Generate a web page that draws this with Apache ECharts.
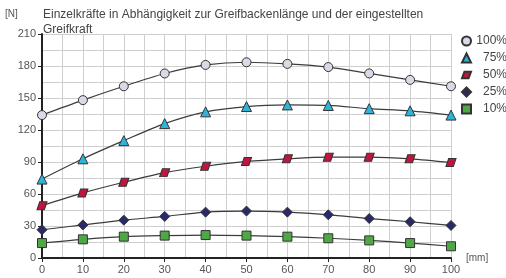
<!DOCTYPE html>
<html>
<head>
<meta charset="utf-8">
<script src="https://cdn.jsdelivr.net/npm/echarts@6/dist/echarts.min.js"></script>
<style>
  html, body { margin: 0; padding: 0; background: #fff; }
  #main { width: 506px; height: 278px; }
</style>
</head>
<body>
<div id="main"></div>
<script>
  // Greifbackenlänge [mm]
  var lengths = [0, 10, 20, 30, 40, 50, 60, 70, 80, 90, 100];

  // Einzelkräfte [N] je eingestellter Greifkraft
  var force100 = [134, 148, 161, 173, 181, 183.5, 182, 179, 173, 167, 161];
  var force75 = [74, 93, 110, 126, 137, 142, 143.5, 143, 140, 138, 134];
  var force50 = [49, 61, 71, 80, 86, 90.5, 93, 94.5, 94.5, 93, 89.5];
  var force25 = [26.5, 31, 35.5, 39, 43, 44, 43, 40.5, 37, 34, 30.5];
  var force10 = [14, 17.5, 20, 21, 21.5, 21, 20, 18.5, 16.5, 14, 11];

  var seriesNames = ['100%', '75%', '50%', '25%', '10%'];

  var parallelogram = 'path://M3,0 L11,0 L8,8 L0,8 Z';
  var symbols = ['circle', 'triangle', parallelogram, 'diamond', 'rect'];

  var chart = echarts.init(document.getElementById('main'));

  // Hilfsfunktion: Punkte [x, y]
  function pts(arr) {
    return lengths.map(function (x, i) { return [x, arr[i]]; });
  }

  function makeSeries(name, data, symbol, size, color) {
    return {
      name: name,
      type: 'line',
      smooth: 0.3,
      data: pts(data),
      symbol: symbol,
      symbolSize: size,
      showAllSymbol: true,
      lineStyle: { color: '#3c3c3c', width: 1.2 },
      itemStyle: { color: color, borderColor: '#333', borderWidth: 1 },
      emphasis: { disabled: true },
      z: 3
    };
  }

  var option = {
    animation: false,
    textStyle: { fontFamily: 'Liberation Sans, Arial, sans-serif' },
    title: {
      text: 'Einzelkräfte in Abhängigkeit zur Greifbackenlänge und der eingestellten\nGreifkraft',
      left: 38,
      top: 2,
      textStyle: { fontSize: 12, fontWeight: 'normal', color: '#444', lineHeight: 15 }
    },
    graphic: [{
      type: 'text',
      left: 5,
      top: 9,
      style: { text: '[N]', fontSize: 10, fill: '#555', fontFamily: 'Liberation Sans, Arial, sans-serif' }
    }],
    legend: {
      orient: 'vertical',
      left: 461,
      top: 35,
      padding: 0,
      itemWidth: 9,
      itemHeight: 9,
      itemGap: 5,
      data: seriesNames.map(function (n, i) { return { name: n, icon: symbols[i] }; }),
      formatter: function (name) { return '{a|' + name + '}'; },
      textStyle: {
        color: '#444',
        fontSize: 12,
        rich: { a: { width: 31, align: 'right', fontSize: 12, color: '#444' } }
      }
    },
    grid: { left: 42, right: 55, top: 34, bottom: 20 },
    xAxis: {
      type: 'value',
      min: 0,
      max: 100,
      interval: 10,
      name: '[mm]',
      nameLocation: 'end',
      nameGap: 15,
      nameTextStyle: { fontSize: 10, color: '#555' },
      axisLine: { show: true, lineStyle: { color: '#222', width: 2 } },
      axisTick: { show: true, length: 4, lineStyle: { color: '#222' } },
      axisLabel: { fontSize: 11, color: '#555', margin: 6 },
      splitLine: { show: true, lineStyle: { color: '#cfcfcf', width: 1 } },
      minorTick: { show: false, splitNumber: 2 },
      minorSplitLine: { show: true, lineStyle: { color: '#cfcfcf', width: 1 } }
    },
    yAxis: {
      type: 'value',
      min: 0,
      max: 210,
      interval: 30,
      axisLine: { show: true, lineStyle: { color: '#222', width: 2 } },
      axisTick: { show: true, length: 4, lineStyle: { color: '#222' } },
      axisLabel: { fontSize: 11, color: '#555', margin: 6 },
      splitLine: { show: true, lineStyle: { color: '#cfcfcf', width: 1 } },
      minorTick: { show: false, splitNumber: 2 },
      minorSplitLine: { show: true, lineStyle: { color: '#cfcfcf', width: 1 } }
    },
    series: [
      makeSeries('100%', force100, symbols[0], 9, '#d9d9e8'),
      makeSeries('75%', force75, symbols[1], 10, '#2fb4d8'),
      makeSeries('50%', force50, symbols[2], [10, 8], '#c0163e'),
      makeSeries('25%', force25, symbols[3], 10, '#2b2a68'),
      makeSeries('10%', force10, symbols[4], 9, '#4da845')
    ]
  };

  option && chart.setOption(option);

  window.addEventListener('resize', function () {
    chart.resize();
  });
</script>
</body>
</html>
